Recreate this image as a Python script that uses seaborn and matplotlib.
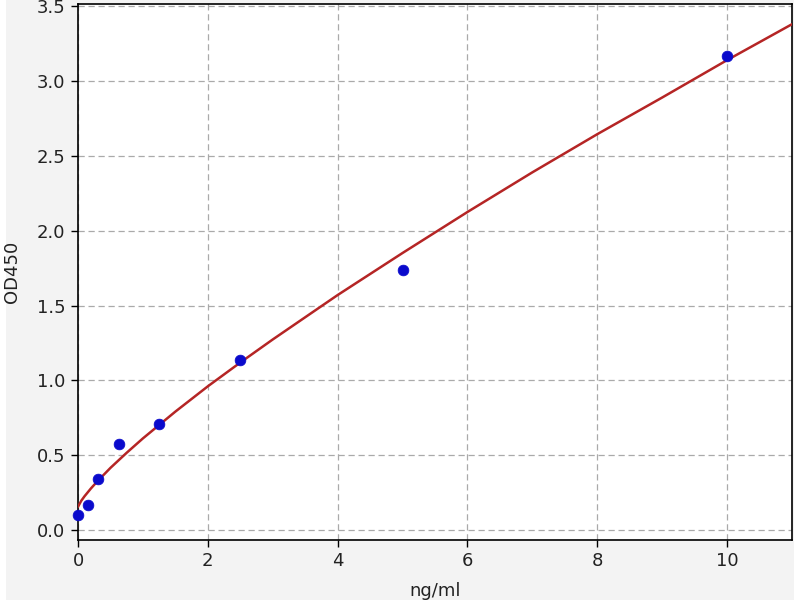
import numpy as np
import pandas as pd
import matplotlib
matplotlib.use("Agg")
import matplotlib.pyplot as plt
from matplotlib.patches import Rectangle
import seaborn as sns

# standard points (concentration, OD)
conc = [0, 0.156, 0.3125, 0.625, 1.25, 2.5, 5, 10]
od = [0.10, 0.17, 0.34, 0.575, 0.705, 1.135, 1.735, 3.165]

# fitted curve
curve_x = [0, 0.05, 0.1, 0.2, 0.3, 0.5, 0.75, 1, 1.5, 2, 2.5, 3, 4, 5, 6, 7, 8, 9, 10, 11]
curve_y = [0.155, 0.195, 0.225, 0.278, 0.326, 0.415, 0.516, 0.612, 0.791, 0.96,
           1.119, 1.273, 1.57, 1.851, 2.125, 2.39, 2.645, 2.89, 3.14, 3.38]

x_ticks = [0, 2, 4, 6, 8, 10]
y_ticks = [0.0, 0.5, 1.0, 1.5, 2.0, 2.5, 3.0, 3.5]

sns.set_style("ticks")
plt.rcParams['font.family'] = ['DejaVu Sans']

fig = plt.figure(figsize=(8, 6), dpi=100, facecolor="white")
fig.patches.append(Rectangle((6 / 800, 0), 788 / 800, 1, transform=fig.transFigure,
                             facecolor="#f3f3f3", edgecolor="none", zorder=-10))
ax = fig.add_axes([78 / 800, 60 / 600, 714 / 800, 536 / 600])
ax.set_facecolor("white")

df_pts = pd.DataFrame({"x": conc, "y": od})
df_curve = pd.DataFrame({"x": curve_x, "y": curve_y})

sns.lineplot(data=df_curve, x="x", y="y", ax=ax, color="#b52525", linewidth=1.8, zorder=3)
sns.scatterplot(data=df_pts, x="x", y="y", ax=ax, color="#0a0acc", s=60,
                edgecolor="#0a0acc", linewidth=0.5, zorder=4, clip_on=False)

ax.set_xlim(0, 11)
ax.set_ylim(-0.067, 3.515)
ax.set_xticks(x_ticks)
ax.set_yticks(y_ticks)
ax.set_xticklabels([str(t) for t in x_ticks])
ax.set_yticklabels([f"{t:.1f}" for t in y_ticks])
ax.grid(True, linestyle=(0, (5, 3)), color="#aaaaaa", linewidth=0.9)
ax.set_axisbelow(True)

ax.tick_params(labelsize=13, length=5, width=1.0, pad=4, color="black", labelcolor="#222222")
for s in ax.spines.values():
    s.set_color("black")
    s.set_linewidth(1.2)
    s.set_visible(True)

ax.set_xlabel("ng/ml", fontsize=13, color="#222222", labelpad=8)
ax.set_ylabel("OD450", fontsize=13, color="#222222", labelpad=11)

fig.savefig("out.png", dpi=100, facecolor=fig.get_facecolor())
